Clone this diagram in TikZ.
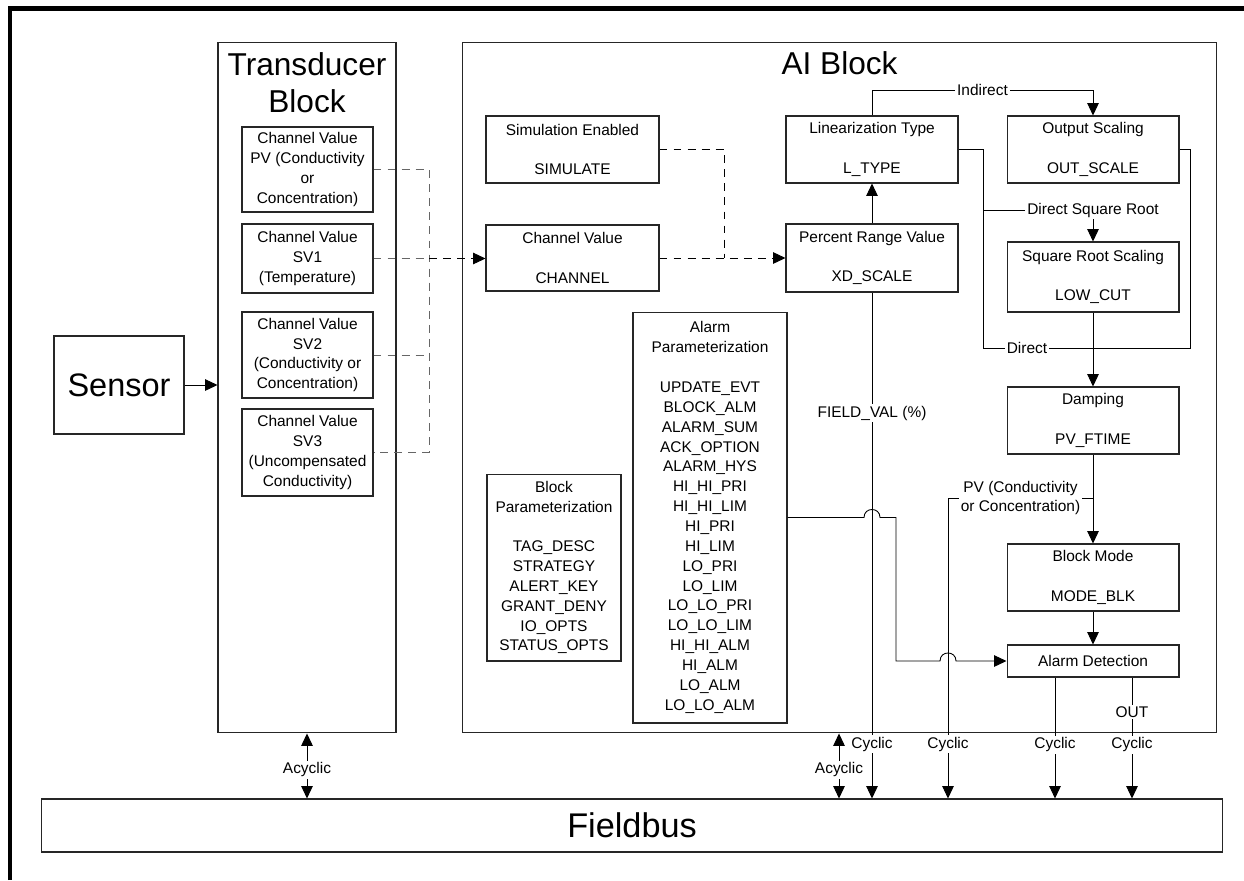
\documentclass[tikz,border=0pt]{standalone}
\usepackage{fontspec}
\setmainfont{Liberation Sans}
\usetikzlibrary{arrows.meta,positioning}

\begin{document}
\begin{tikzpicture}[x=0.02cm,y=-0.02cm] % one unit = one pixel of the drawing
\tikzstyle{blk} = [draw=black!85, line width=0.6pt, align=center, inner sep=0pt, font=\fontsize{8.8}{11.3}\selectfont] % plain box
\tikzstyle{bigtxt} = [align=center, inner sep=0pt, font=\fontsize{18}{21}\selectfont] % block titles
\tikzstyle{lbl} = [fill=white, inner sep=1pt, align=center, font=\fontsize{8.8}{11.3}\selectfont] % text sitting on a line
\tikzstyle{con} = [line width=0.5pt] % plain connector
\tikzstyle{arr} = [con, -{Triangle[length=7pt,width=6.5pt]}]
\tikzstyle{darr} = [con, {Triangle[length=7pt,width=6.5pt]}-{Triangle[length=7pt,width=6.5pt]}]
\tikzstyle{grdash} = [con, dash pattern=on 4.5pt off 3.5pt, black!60] % channel lines inside transducer
\tikzstyle{bkdash} = [con, dash pattern=on 4.5pt off 3.5pt]

\useasboundingbox (0,0) rectangle (1244,880);
\draw[line width=2.8pt] (10,880) -- (10,8.5) -- (1244,8.5); % page frame

% sensor and transducer block
\node[blk, font=\fontsize{18.5}{21}\selectfont, minimum width=2.6cm, minimum height=1.96cm] (sensor) at (119,385) {Sensor};
\node[blk, minimum width=3.56cm, minimum height=13.82cm] (tb) at (307,387.5) {};
\node[bigtxt] (tbtitle) at (307,83) {Transducer\\Block};
\node[blk, minimum width=2.62cm, minimum height=1.7cm] (pv) at (307.5,169.5) {Channel Value\\PV (Conductivity\\or\\Concentration)};
\node[blk, minimum width=2.62cm, minimum height=1.38cm] (sv1) at (307.5,258.5) {Channel Value\\SV1\\(Temperature)};
\node[blk, minimum width=2.62cm, minimum height=1.72cm] (sv2) at (307.5,355) {Channel Value\\SV2\\(Conductivity or\\Concentration)};
\node[blk, minimum width=2.62cm, minimum height=1.74cm] (sv3) at (307.5,452.5) {Channel Value\\SV3\\(Uncompensated\\Conductivity)};

% AI block
\node[blk, minimum width=15.1cm, minimum height=13.82cm] (ai) at (839.5,387.5) {};
\node[bigtxt] (aititle) at (839.5,63.5) {AI Block};
\node[blk, minimum width=3.46cm, minimum height=1.34cm] (sim) at (572.5,149.5) {Simulation Enabled\\[11.3pt]SIMULATE};
\node[blk, minimum width=3.46cm, minimum height=1.32cm] (chan) at (572.5,258) {Channel Value\\[11.3pt]CHANNEL};
\node[blk, minimum width=3.44cm, minimum height=1.34cm] (lin) at (872,149.5) {Linearization Type\\[11.3pt]L\_TYPE};
\node[blk, minimum width=3.44cm, minimum height=1.36cm] (pct) at (872,258) {Percent Range Value\\[11.3pt]XD\_SCALE};
\node[blk, minimum width=3.44cm, minimum height=1.34cm] (outsc) at (1093,149.5) {Output Scaling\\[11.3pt]OUT\_SCALE};
\node[blk, minimum width=3.44cm, minimum height=1.4cm] (sqrt) at (1093,277) {Square Root Scaling\\[11.3pt]LOW\_CUT};
\node[blk, minimum width=3.44cm, minimum height=1.34cm] (damp) at (1093,420.5) {Damping\\[11.3pt]PV\_FTIME};
\node[blk, minimum width=3.44cm, minimum height=1.34cm] (mode) at (1093,577.5) {Block Mode\\[11.3pt]MODE\_BLK};
\node[blk, minimum width=3.44cm, minimum height=0.64cm] (alarmdet) at (1093,661) {Alarm Detection};
\node[blk, minimum width=3.08cm, minimum height=8.22cm] (alarmpar) at (710,517.5) {Alarm\\Parameterization\\[11.3pt]UPDATE\_EVT\\BLOCK\_ALM\\ALARM\_SUM\\ACK\_OPTION\\ALARM\_HYS\\HI\_HI\_PRI\\HI\_HI\_LIM\\HI\_PRI\\HI\_LIM\\LO\_PRI\\LO\_LIM\\LO\_LO\_PRI\\LO\_LO\_LIM\\HI\_HI\_ALM\\HI\_ALM\\LO\_ALM\\LO\_LO\_ALM};
\node[blk, minimum width=2.68cm, minimum height=3.74cm] (blockpar) at (554,567.5) {Block\\Parameterization\\[11.3pt]TAG\_DESC\\STRATEGY\\ALERT\_KEY\\GRANT\_DENY\\IO\_OPTS\\STATUS\_OPTS};

% fieldbus
\node[blk, font=\fontsize{19.5}{22}\selectfont, minimum width=23.64cm, minimum height=1.06cm] (fieldbus) at (632,825.5) {Fieldbus};

% sensor into transducer, channel values into AI block
\draw[arr] (sensor.east) -- (sensor.east -| tb.west);
\coordinate (dv) at (429,0);
\draw[grdash] (pv.east) -- (pv.east -| dv) -- (sv3.east -| dv) -- (sv3.east);
\draw[grdash] (sv2.east) -- (sv2.east -| dv);
\draw[grdash] (sv1.east) -- (sv1.east -| dv);
\draw[bkdash, arr] (sv1.east -| dv) -- (sv1.east -| chan.west);
\draw[bkdash] (sim.east) -| (724,0 |- chan.east);
\draw[bkdash, arr] (chan.east) -- (pct.west);

% linearization paths
\draw[arr] (pct.north) -- (lin.south);
\draw[arr] (lin.north) -- (lin.north |- 0,90) -- node[lbl] {Indirect} (outsc.north |- 0,90) -- (outsc.north);
\node[lbl] (dsr) at (1093,210) {Direct Square Root};
\node[lbl] (dir) at (1027,348) {Direct};
\draw[con] (lin.east) -- (lin.east -| 983,0) |- (dsr.west);
\draw[con] (lin.east -| 983,0) |- (dir.west);
\draw[arr] (dsr.south) -- (sqrt.north);
\draw[con] (outsc.east) -- (outsc.east -| 1190,0) |- (dir.east);
\draw[arr] (sqrt.south) -- (damp.north);
\draw[arr] (damp.south) -- (mode.north);
\draw[arr] (mode.south) -- (alarmdet.north);

% PV branch down to the bus
\coordinate (pvj) at (1093,498);
\draw[arr] (pvj) -- node[lbl] (pvl) {PV (Conductivity\\or Concentration)} (pvj -| 948,0) -- node[lbl, pos=0.82] {Cyclic} (948,0 |- fieldbus.north);

% alarm parameters into alarm detection, jumping the crossings
\draw[arr] (alarmpar.east) -- (864,517.5) .. controls (864,506.8) and (880,506.8) .. (880,517.5) -- (896,517.5) -- (896,661) -- (940,661) .. controls (940,650.3) and (956,650.3) .. (956,661) -- (alarmdet.west);

% cyclic data to the bus
\draw[arr] (pct.south) -- node[lbl, pos=0.239] {FIELD\_VAL (\%)} node[lbl, pos=0.893] {Cyclic} (pct.south |- fieldbus.north);
\draw[arr] (alarmdet.south -| 1055,0) -- node[lbl, pos=0.557] {Cyclic} (1055,0 |- fieldbus.north);
\draw[arr] (alarmdet.south -| 1132,0) -- node[lbl, pos=0.287] {OUT} node[lbl, pos=0.557] {Cyclic} (1132,0 |- fieldbus.north);

% acyclic access
\draw[darr] (tb.south) -- node[lbl, pos=0.56] {Acyclic} (tb.south |- fieldbus.north);
\draw[darr] (ai.south -| 839,0) -- node[lbl, pos=0.56] {Acyclic} (839,0 |- fieldbus.north);
\end{tikzpicture}
\end{document}
